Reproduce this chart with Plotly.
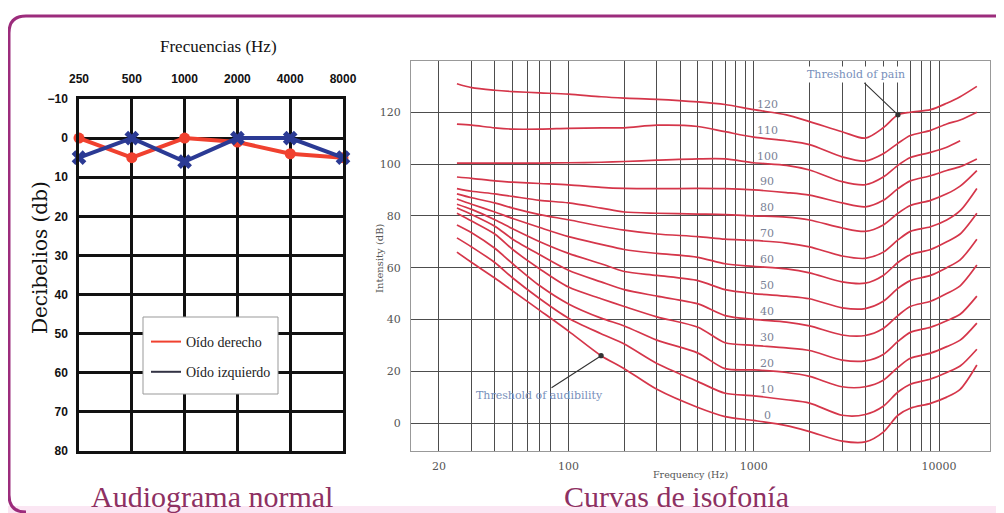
import math
import plotly.graph_objects as go

# The page body has an 8px margin, so the figure is sized to the remaining window.
PAGE_OFFSET = 8
W, H = 1004 - PAGE_OFFSET, 513 - PAGE_OFFSET

# ---------------- Left chart: audiogram ----------------
aud_freqs = ["250", "500", "1000", "2000", "4000", "8000"]
right_ear = [0, 5, 0, 1, 4, 5]      # Oído derecho
left_ear = [5, 0, 6, 0, 0, 5]       # Oído izquierdo
aud_db_ticks = [-10, 0, 10, 20, 30, 40, 50, 60, 70, 80]

# ---------------- Right chart: equal-loudness contours ----------------
iso_freqs = [25, 30, 40, 50, 70, 100, 150, 200, 300, 500, 700, 1000, 1500,
             2000, 3000, 4000, 5000, 6000, 7000, 9000, 11000, 13000, 16000]
phon_0 = [66, 62, 56, 51, 43.5, 35.5, 26, 21, 13, 6, 2.5, 1, -1, -3.3, -7, -7.3, -3.5, 3, 5.7, 7.6, 10, 13, 22.4]
phon_10 = [71.5, 68, 62, 56, 48, 40.5, 34.5, 30.5, 23, 16, 11.5, 10.5, 9, 7.7, 3, 3.3, 6.5, 12, 15, 17, 19.5, 22, 28.5]
phon_20 = [76.5, 73.5, 67.5, 61.5, 53, 46, 40.5, 37.5, 32, 27, 21, 20.5, 19.5, 18, 14, 14, 16.5, 21.5, 25, 27, 29.5, 32, 38.6]
phon_30 = [81, 78, 73, 67, 59.5, 52.5, 48, 45, 41, 37, 31, 30, 29, 28, 24.3, 24, 26.5, 31.5, 35, 37, 39.5, 42, 49]
phon_40 = [83, 80.5, 76, 71, 65, 59, 54.5, 51.5, 49, 46, 41.5, 40, 39, 37.5, 34, 33.8, 36.5, 41.5, 45, 47, 50, 53, 61]
phon_50 = [84.5, 82.5, 78.5, 75, 70, 65.5, 61.5, 58.5, 57, 55, 51.5, 50, 49, 48, 44.5, 44.2, 47, 52, 55, 57, 60, 63, 71]
phon_60 = [86.5, 84.5, 81.5, 79, 75.5, 72, 69, 67, 65.5, 64, 61.5, 60.5, 59.5, 58, 54.5, 54, 57, 62, 65, 67, 70, 73, 81]
phon_70 = [88.5, 87, 85, 83, 80.5, 78.5, 76, 74.5, 73, 72, 71, 70.5, 69.5, 68, 64.5, 63.6, 66, 70.7, 74, 75.8, 78.4, 82, 90.6]
phon_80 = [90.5, 89.5, 88.5, 87.5, 86, 85, 83, 81.5, 81, 80.7, 80.5, 80, 79.5, 78.4, 75.3, 74, 76.5, 81, 84, 86, 88.5, 91.5, 97.5]
phon_90 = [95, 94.5, 93.5, 93, 92.5, 92, 91, 90.6, 90.5, 90.6, 90.5, 90, 89, 88, 85, 83.5, 86, 90.5, 93.5, 95.5, 97.5, 99, 102]
phon_100 = [100.4, 100.4, 100.4, 100.4, 100.4, 100.5, 100.7, 101, 101.5, 102, 102, 100.5, 99.5, 97.7, 93.2, 92, 95, 99.5, 102.5, 104.5, 106.5, 109, None]
phon_110 = [115.4, 115, 114, 113.5, 113.5, 113.8, 114, 114, 115, 114.5, 112.5, 110.4, 109, 107.5, 102.8, 101.2, 104, 108, 111, 113, 115.5, 117, 120]
phon_120 = [131, 129.5, 128.5, 128, 127.5, 127, 126, 125.5, 125, 124, 123, 121, 119, 116.4, 112.5, 110, 114, 119, 120, 121, 123.5, 126, 130]
phon_levels = [0, 10, 20, 30, 40, 50, 60, 70, 80, 90, 100, 110, 120]

grid_freqs = [20, 30, 40, 50, 60, 70, 80, 100, 200, 300, 400, 500, 600, 700, 800, 900,
              1000, 2000, 3000, 4000, 5000, 6000, 7000, 8000, 9000, 10000]
freq_tick_labels = {20: "20", 100: "100", 1000: "1000", 10000: "10000"}
intensity_ticks = [0, 20, 40, 60, 80, 100, 120]

contours = dict(zip(phon_levels, [phon_0, phon_10, phon_20, phon_30, phon_40, phon_50, phon_60,
                                  phon_70, phon_80, phon_90, phon_100, phon_110, phon_120]))

RED = "#f0412f"
BLUE = "#2b3a94"
CURVE = "#d5364a"
TITLE_COL = "#8e3062"
SERIF = "Liberation Serif, Times New Roman, serif"
WIDE_SERIF = "DejaVu Serif, serif"


def px(x):
    return (x - PAGE_OFFSET) / W


def py(y):
    return 1 - (y - PAGE_OFFSET) / H


fig = go.Figure()

# Audiogram traces
fig.add_trace(go.Scatter(x=aud_freqs, y=right_ear, mode="lines+markers", xaxis="x", yaxis="y",
                         line=dict(color=RED, width=4), marker=dict(symbol="circle", size=11, color=RED),
                         cliponaxis=False, showlegend=False))
fig.add_trace(go.Scatter(x=aud_freqs, y=left_ear, mode="lines+markers", xaxis="x", yaxis="y",
                         line=dict(color=BLUE, width=4), marker=dict(symbol="x", size=13, color=BLUE),
                         cliponaxis=False, showlegend=False))
# Legend entries
fig.add_trace(go.Scatter(x=[None], y=[None], mode="lines", xaxis="x", yaxis="y", name="Oído derecho",
                         line=dict(color=RED, width=2), legendgroup="d"))
fig.add_trace(go.Scatter(x=[None], y=[None], mode="lines", xaxis="x", yaxis="y", name="Oído izquierdo",
                         line=dict(color="#333344", width=2), legendgroup="i"))

# Contours
for p in phon_levels:
    fig.add_trace(go.Scatter(x=iso_freqs, y=contours[p], mode="lines", xaxis="x2", yaxis="y2",
                             line=dict(color=CURVE, width=1.7, shape="spline", smoothing=0.8),
                             showlegend=False, hoverinfo="skip"))

annotations = []
# Curve labels
for p in phon_levels:
    annotations.append(dict(x=math.log10(1180), y=p, xref="x2", yref="y2", text=str(p), showarrow=False,
                            xanchor="center", yshift=8, font=dict(family=WIDE_SERIF, size=11, color="#7a8296")))

# Threshold annotations
annotations.append(dict(x=math.log10(iso_freqs[17]), y=phon_120[17], xref="x2", yref="y2",
                        text="Threshold of pain", showarrow=True, arrowhead=6, arrowsize=1.2,
                        arrowwidth=1.1, arrowcolor="#333", ax=-42, ay=-40, bgcolor="white",
                        font=dict(family=WIDE_SERIF, size=11, color="#7890bb")))
annotations.append(dict(x=math.log10(iso_freqs[6]), y=phon_0[6], xref="x2", yref="y2",
                        text="Threshold of audibility", showarrow=True, arrowhead=6, arrowsize=1.2,
                        arrowwidth=1.1, arrowcolor="#333", ax=-62, ay=40,
                        font=dict(family=WIDE_SERIF, size=11, color="#7890bb")))


def label(x, y, text, size, color, family, angle=0):
    return dict(x=px(x), y=py(y), xref="paper", yref="paper", text=text, showarrow=False,
                xanchor="center", yanchor="middle", textangle=angle,
                font=dict(family=family, size=size, color=color))


annotations += [
    label(218, 47, "Frecuencias (Hz)", 17, "#111", SERIF),
    label(40, 258, "Decibelios (db)", 20, "#111", WIDE_SERIF, -90),
    label(690, 474, "Frequency (Hz)", 9.5, "#555", WIDE_SERIF),
    label(379, 258, "Intensity (dB)", 10, "#555", WIDE_SERIF, -90),
    label(212, 496, "Audiograma normal", 30, TITLE_COL, SERIF),
    label(676, 496, "Curvas de isofonía", 30, TITLE_COL, SERIF),
]

# Frame shapes
r = 17
border = (f"M {px(1012)} {py(16)} L {px(9 + r)} {py(16)} Q {px(9)} {py(16)} {px(9)} {py(16 + r)} "
          f"L {px(9)} {py(512 - r)} Q {px(9)} {py(512)} {px(9 + r)} {py(512)}")
shapes = [
    dict(type="rect", xref="paper", yref="paper", x0=0, x1=1, y0=py(514), y1=py(506),
         fillcolor="#fbe6f3", line=dict(width=0), layer="below"),
    dict(type="path", xref="paper", yref="paper", path=border, line=dict(color="#9c2c7c", width=3)),
    dict(type="rect", xref="paper", yref="paper", x0=px(143), x1=px(278), y0=py(394), y1=py(317),
         fillcolor="white", line=dict(color="#999", width=1), layer="above"),
]

grid_ticktext = [freq_tick_labels.get(f, "") for f in grid_freqs if f != 90]
grid_tickvals = [f for f in grid_freqs if f != 90]

fig.update_layout(
    width=W, height=H, margin=dict(l=0, r=0, t=0, b=0, pad=0, autoexpand=False),
    paper_bgcolor="white", plot_bgcolor="white",
    showlegend=True,
    legend=dict(x=px(146), y=py(326), xanchor="left", yanchor="top", bgcolor="rgba(0,0,0,0)",
                borderwidth=0, traceorder="grouped", tracegroupgap=9,
                font=dict(family=SERIF, size=14, color="#222")),
    xaxis=dict(domain=[px(79), px(343)], type="category", categoryorder="array", categoryarray=aud_freqs,
               range=[0, 5], side="top", anchor="y", automargin=False, showgrid=True, gridcolor="#111",
               gridwidth=2.5, showline=True, mirror=True, linecolor="#111", linewidth=2.5, ticks="",
               zeroline=False, ticklabelstandoff=8,
               tickfont=dict(family="Liberation Sans, Arial", size=12, color="#111", weight="bold")),
    yaxis=dict(domain=[py(451), py(99)], range=[80, -10], tickvals=aud_db_ticks, anchor="x",
               automargin=False, showgrid=True, gridcolor="#111", gridwidth=2.5, showline=True,
               mirror=True, linecolor="#111", linewidth=2.5, ticks="", zeroline=False, ticklabelstandoff=6,
               tickfont=dict(family="Liberation Sans, Arial", size=12, color="#111", weight="bold")),
    xaxis2=dict(domain=[px(411), px(990)], type="log", range=[1.150, 4.275], anchor="y2", automargin=False,
                tickvals=grid_tickvals, ticktext=grid_ticktext, showgrid=True, gridcolor="#4d4d4d",
                gridwidth=1, showline=True, mirror=True, linecolor="#999", linewidth=1, ticks="",
                ticklabelstandoff=5, tickfont=dict(family=WIDE_SERIF, size=11, color="#555")),
    yaxis2=dict(domain=[py(451), py(61)], range=[-10.8, 139.8], anchor="x2", tickvals=intensity_ticks,
                automargin=False, showgrid=True, gridcolor="#4d4d4d", gridwidth=1, showline=True, mirror=True,
                linecolor="#999", linewidth=1, ticks="", zeroline=False, ticklabelstandoff=7,
                tickfont=dict(family=WIDE_SERIF, size=11, color="#555")),
    annotations=annotations,
    shapes=shapes,
)

fig.write_html("out.html")
